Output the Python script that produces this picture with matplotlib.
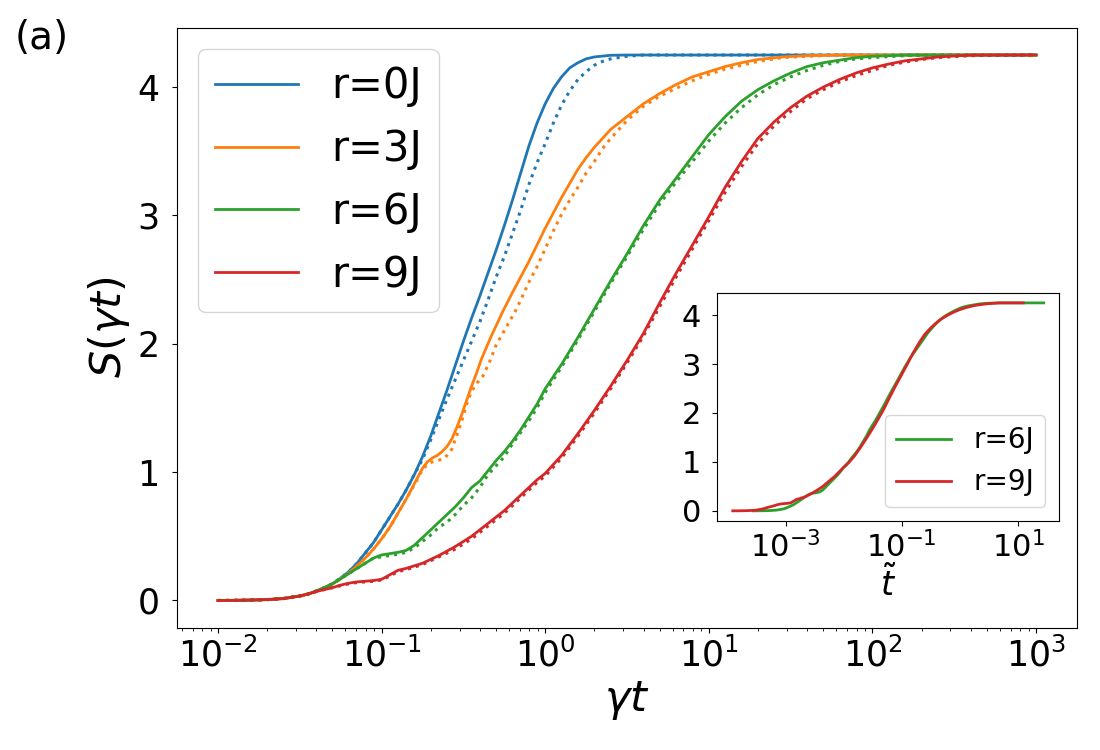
import numpy as np
import matplotlib.pyplot as plt

# log10(gamma t) and S(gamma t)
# solid = full dynamics, dotted = approximation
lg_r0 = [-2.0, -1.9, -1.8, -1.7, -1.6, -1.5, -1.45, -1.4, -1.35, -1.3, -1.25, -1.2, -1.15,
         -1.1, -1.05, -1.0, -0.95, -0.9, -0.85, -0.8, -0.75, -0.7, -0.65, -0.6, -0.55, -0.5,
         -0.45, -0.4, -0.35, -0.3, -0.25, -0.2, -0.15, -0.1, -0.05, 0.0, 0.05, 0.1, 0.15,
         0.2, 0.25, 0.3, 0.4, 0.5, 0.7, 1.5, 3.0]
S_r0 = [0.0, 0.001, 0.003, 0.007, 0.015, 0.035, 0.05, 0.07, 0.10, 0.13, 0.175, 0.225, 0.29,
        0.37, 0.45, 0.55, 0.65, 0.75, 0.86, 0.98, 1.12, 1.28, 1.46, 1.64, 1.83, 2.02,
        2.20, 2.37, 2.55, 2.73, 2.92, 3.12, 3.33, 3.54, 3.72, 3.87, 3.99, 4.08, 4.15,
        4.19, 4.22, 4.235, 4.248, 4.25, 4.25, 4.25, 4.25]

lg_r0d = [-2.0, -1.9, -1.8, -1.7, -1.6, -1.5, -1.45, -1.4, -1.35, -1.3, -1.25, -1.2, -1.15,
          -1.1, -1.05, -1.0, -0.95, -0.9, -0.85, -0.8, -0.75, -0.7, -0.65, -0.6, -0.55, -0.5,
          -0.45, -0.4, -0.35, -0.3, -0.25, -0.2, -0.15, -0.1, -0.05, 0.0, 0.05, 0.1, 0.15,
          0.2, 0.25, 0.3, 0.35, 0.4, 0.5, 0.6, 0.8, 1.5, 3.0]
S_r0d = [0.0, 0.001, 0.003, 0.007, 0.015, 0.035, 0.05, 0.07, 0.10, 0.13, 0.175, 0.225, 0.29,
         0.37, 0.45, 0.55, 0.65, 0.75, 0.86, 0.98, 1.10, 1.25, 1.41, 1.57, 1.72, 1.87,
         2.02, 2.17, 2.34, 2.52, 2.68, 2.86, 3.04, 3.24, 3.41, 3.56, 3.72, 3.86, 3.97,
         4.06, 4.12, 4.17, 4.20, 4.22, 4.24, 4.25, 4.25, 4.25, 4.25]

lg_r3 = [-2.0, -1.9, -1.8, -1.7, -1.6, -1.5, -1.45, -1.4, -1.35, -1.3, -1.25, -1.2, -1.15,
         -1.1, -1.05, -1.0, -0.95, -0.9, -0.85, -0.8, -0.75, -0.72, -0.69, -0.66, -0.63,
         -0.6, -0.57, -0.54, -0.51, -0.48, -0.45, -0.42, -0.39, -0.36, -0.33, -0.3, -0.26,
         -0.2, -0.15, -0.1, -0.05, 0.0, 0.05, 0.1, 0.15, 0.2, 0.25, 0.3, 0.35, 0.4, 0.45,
         0.5, 0.6, 0.7, 0.8, 0.9, 1.0, 1.1, 1.2, 1.3, 1.45, 1.6, 1.8, 3.0]
S_r3 = [0.0, 0.001, 0.003, 0.007, 0.015, 0.035, 0.05, 0.07, 0.10, 0.13, 0.17, 0.215, 0.27,
        0.33, 0.40, 0.48, 0.57, 0.68, 0.79, 0.91, 1.03, 1.08, 1.11, 1.13, 1.16,
        1.20, 1.26, 1.35, 1.45, 1.56, 1.67, 1.77, 1.88, 1.97, 2.06, 2.14, 2.25,
        2.40, 2.52, 2.64, 2.77, 2.90, 3.02, 3.14, 3.25, 3.36, 3.45, 3.53, 3.60, 3.67, 3.72,
        3.77, 3.87, 3.95, 4.02, 4.08, 4.12, 4.16, 4.19, 4.215, 4.235, 4.245, 4.25, 4.25]

lg_r3d = [-2.0, -1.9, -1.8, -1.7, -1.6, -1.5, -1.45, -1.4, -1.35, -1.3, -1.25, -1.2, -1.15,
          -1.1, -1.05, -1.0, -0.95, -0.9, -0.85, -0.8, -0.75, -0.72, -0.69, -0.66, -0.63,
          -0.6, -0.57, -0.54, -0.51, -0.48, -0.45, -0.42, -0.38, -0.34, -0.3, -0.26, -0.22,
          -0.18, -0.15, -0.1, -0.05, 0.0, 0.05, 0.1, 0.15, 0.2, 0.25, 0.3, 0.35, 0.4, 0.45,
          0.5, 0.6, 0.7, 0.8, 0.9, 1.0, 1.1, 1.2, 1.3, 1.45, 1.6, 1.8, 2.0, 3.0]
S_r3d = [0.0, 0.001, 0.003, 0.007, 0.015, 0.035, 0.05, 0.07, 0.10, 0.13, 0.17, 0.215, 0.27,
         0.33, 0.40, 0.48, 0.57, 0.68, 0.79, 0.90, 1.02, 1.06, 1.08, 1.09, 1.10,
         1.13, 1.18, 1.29, 1.40, 1.53, 1.63, 1.69, 1.75, 1.86, 1.99, 2.08, 2.17,
         2.26, 2.34, 2.48, 2.60, 2.74, 2.88, 3.01, 3.12, 3.22, 3.33, 3.42, 3.52, 3.60, 3.67,
         3.74, 3.85, 3.93, 3.99, 4.05, 4.10, 4.14, 4.17, 4.20, 4.23, 4.24, 4.25, 4.25, 4.25]

lg_r6 = [-2.0, -1.9, -1.8, -1.7, -1.6, -1.5, -1.45, -1.4, -1.35, -1.3, -1.25, -1.2, -1.15,
         -1.1, -1.05, -1.0, -0.95, -0.9, -0.85, -0.8, -0.75, -0.7, -0.65, -0.6, -0.55, -0.5,
         -0.45, -0.4, -0.35, -0.3, -0.25, -0.2, -0.15, -0.1, -0.05, 0.0, 0.1, 0.2, 0.3, 0.4,
         0.5, 0.6, 0.7, 0.8, 0.9, 1.0, 1.1, 1.2, 1.3, 1.4, 1.5, 1.6, 1.7, 1.8, 1.9, 2.0,
         2.2, 3.0]
S_r6 = [0.0, 0.001, 0.003, 0.007, 0.015, 0.035, 0.05, 0.075, 0.10, 0.13, 0.17, 0.21, 0.25,
        0.29, 0.33, 0.355, 0.365, 0.375, 0.39, 0.43, 0.49, 0.55, 0.61, 0.67, 0.73, 0.80,
        0.88, 0.93, 1.01, 1.09, 1.16, 1.24, 1.33, 1.43, 1.53, 1.65, 1.84, 2.05, 2.27, 2.49,
        2.70, 2.92, 3.12, 3.29, 3.46, 3.63, 3.77, 3.89, 3.98, 4.05, 4.11, 4.16, 4.19, 4.21,
        4.23, 4.24, 4.25, 4.25]

lg_r6d = [-2.0, -1.9, -1.8, -1.7, -1.6, -1.5, -1.45, -1.4, -1.35, -1.3, -1.25, -1.2, -1.15,
          -1.1, -1.05, -1.0, -0.95, -0.9, -0.85, -0.8, -0.75, -0.7, -0.65, -0.6, -0.55, -0.5,
          -0.45, -0.4, -0.35, -0.3, -0.25, -0.2, -0.15, -0.1, -0.05, 0.0, 0.1, 0.2, 0.3, 0.4,
          0.5, 0.6, 0.7, 0.8, 0.9, 1.0, 1.1, 1.2, 1.3, 1.4, 1.5, 1.6, 1.7, 1.8, 1.9, 2.0,
          2.2, 2.5, 3.0]
S_r6d = [0.0, 0.001, 0.003, 0.007, 0.015, 0.035, 0.05, 0.075, 0.10, 0.13, 0.17, 0.21, 0.25,
         0.29, 0.33, 0.34, 0.35, 0.36, 0.375, 0.41, 0.46, 0.51, 0.57, 0.61, 0.67, 0.74,
         0.80, 0.88, 0.98, 1.05, 1.12, 1.22, 1.31, 1.40, 1.50, 1.62, 1.82, 2.03, 2.25, 2.47,
         2.68, 2.89, 3.09, 3.26, 3.42, 3.58, 3.72, 3.84, 3.94, 4.02, 4.08, 4.13, 4.17, 4.20,
         4.22, 4.23, 4.245, 4.25, 4.25]

lg_r9 = [-2.0, -1.9, -1.8, -1.7, -1.6, -1.5, -1.45, -1.4, -1.35, -1.3, -1.25, -1.2, -1.15,
         -1.1, -1.05, -1.0, -0.95, -0.9, -0.85, -0.8, -0.75, -0.7, -0.65, -0.6, -0.55, -0.5,
         -0.45, -0.4, -0.35, -0.3, -0.25, -0.2, -0.15, -0.1, -0.05, 0.0, 0.1, 0.2, 0.3, 0.4,
         0.5, 0.6, 0.7, 0.8, 0.9, 1.0, 1.1, 1.2, 1.3, 1.4, 1.5, 1.6, 1.7, 1.8, 1.9, 2.0,
         2.1, 2.2, 2.3, 2.4, 2.6, 3.0]
S_r9 = [0.0, 0.001, 0.003, 0.007, 0.015, 0.035, 0.05, 0.07, 0.085, 0.10, 0.12, 0.135, 0.145,
        0.15, 0.155, 0.165, 0.20, 0.235, 0.25, 0.27, 0.29, 0.32, 0.35, 0.385, 0.42, 0.46,
        0.50, 0.55, 0.60, 0.65, 0.70, 0.76, 0.82, 0.88, 0.94, 0.99, 1.13, 1.30, 1.48, 1.67,
        1.87, 2.08, 2.32, 2.55, 2.77, 2.99, 3.22, 3.42, 3.60, 3.73, 3.84, 3.93, 4.00, 4.06,
        4.11, 4.15, 4.18, 4.205, 4.22, 4.235, 4.25, 4.25]
S_r9d = [0.0, 0.001, 0.003, 0.007, 0.015, 0.035, 0.05, 0.07, 0.085, 0.10, 0.115, 0.13, 0.14,
         0.145, 0.15, 0.16, 0.19, 0.225, 0.24, 0.26, 0.28, 0.31, 0.34, 0.37, 0.40, 0.44,
         0.48, 0.53, 0.58, 0.63, 0.68, 0.74, 0.80, 0.86, 0.92, 0.97, 1.11, 1.28, 1.46, 1.65,
         1.85, 2.06, 2.29, 2.52, 2.74, 2.96, 3.18, 3.38, 3.56, 3.70, 3.81, 3.91, 3.98, 4.04,
         4.09, 4.13, 4.17, 4.195, 4.215, 4.23, 4.245, 4.25]

labels = ['r=0J', 'r=3J', 'r=6J', 'r=9J']
colors = ['C0', 'C1', 'C2', 'C3']
solid = [(lg_r0, S_r0), (lg_r3, S_r3), (lg_r6, S_r6), (lg_r9, S_r9)]
dotted = [(lg_r0d, S_r0d), (lg_r3d, S_r3d), (lg_r6d, S_r6d), (lg_r9, S_r9d)]

fig = plt.figure(figsize=(11, 7.5), dpi=100)
ax = fig.add_axes([0.161, 0.163, 0.818, 0.800])

for (lg, s), (lgd, sd), c, lab in zip(solid, dotted, colors, labels):
    ax.plot(10**np.array(lg), s, color=c, lw=2.0, label=lab)
    ax.plot(10**np.array(lgd), sd, color=c, lw=2.2, ls=':')

ax.set_xscale('log')
ax.set_yticks([0, 1, 2, 3, 4])
ax.tick_params(labelsize=25)
ax.tick_params(axis='y', pad=9)
ax.set_xlabel(r'$\gamma t$', fontsize=31)
ax.set_ylabel(r'$S(\gamma t)$', fontsize=31)
ax.legend(loc='upper left', fontsize=30)

fig.text(0.013, 0.935, '(a)', fontsize=28)

# inset: rescaled time t~ = gamma t / r^2
axin = fig.add_axes([0.652, 0.305, 0.311, 0.305])
axin.plot(10**np.array(lg_r6) / 36, S_r6, color='C2', lw=2.0, label='r=6J')
axin.plot(10**np.array(lg_r9) / 81, S_r9, color='C3', lw=2.0, label='r=9J')
axin.set_xscale('log')
axin.set_xticks([1e-3, 1e-1, 1e1])
axin.set_yticks([0, 1, 2, 3, 4])
axin.tick_params(labelsize=22)
axin.tick_params(axis='y', pad=8)
axin.set_xlabel(r'$\tilde{t}$', fontsize=24, labelpad=2)
axin.legend(loc='lower right', fontsize=20)

fig.savefig('out.png', dpi=100)
